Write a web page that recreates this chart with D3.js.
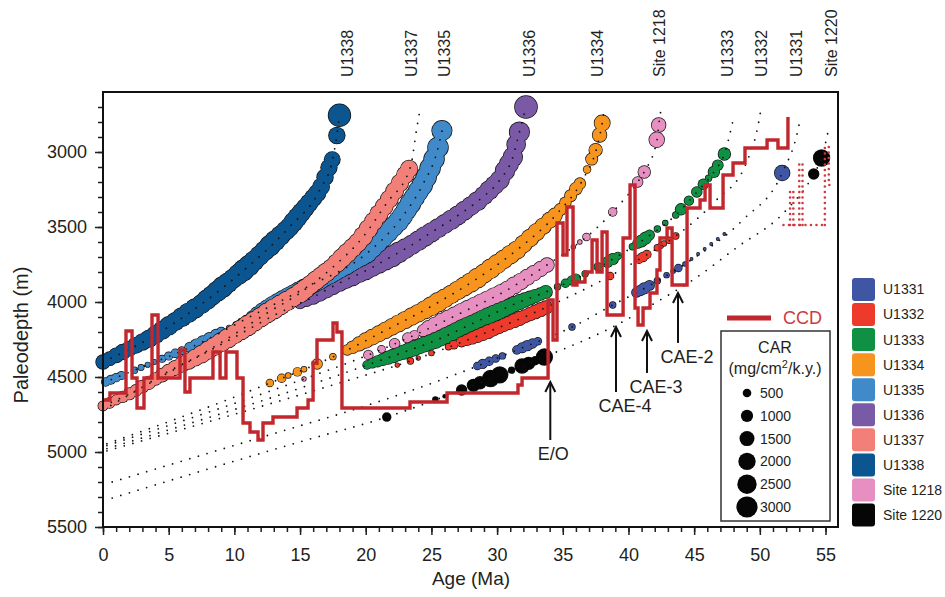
<!DOCTYPE html>
<html>
<head>
<meta charset="utf-8">
<script src="https://cdn.jsdelivr.net/npm/d3@7"></script>
<style>
body { margin: 0; background: #fff; }
svg { display: block; font-family: "Liberation Sans", Arial, sans-serif; }
</style>
</head>
<body>
<svg id="chart" width="945" height="597"></svg>
<script>
// ---- data ----
const siteNames = ['U1331', 'U1332', 'U1333', 'U1334', 'U1335', 'U1336', 'U1337', 'U1338', 'Site 1218', 'Site 1220'];
const siteColors = ['#3f56a5', '#ee3a2b', '#0f9043', '#f7941d', '#418ac9', '#7a5aa6', '#f37f79', '#0b5591', '#e78fc0', '#060606'];
const drawOrder = ['U1336', 'U1335', 'U1337', 'U1338', 'U1334', 'Site 1218', 'U1333', 'U1332', 'U1331', 'Site 1220'];

const topLabels = ['U1338', 'U1337', 'U1335', 'U1336', 'U1334', 'Site 1218', 'U1333', 'U1332', 'U1331', 'Site 1220'];
const topLabelAge = [18.65, 23.5, 26.0, 32.5, 37.7, 42.4, 47.6, 50.2, 52.8, 55.5];

const ageMajor = [0, 5, 10, 15, 20, 25, 30, 35, 40, 45, 50, 55];
const depthMajor = [3000, 3500, 4000, 4500, 5000, 5500];
const carLegend = [500, 1000, 1500, 2000, 2500, 3000];

// paleodepth paths [age Ma, depth m]
const pathU1338 = [[0, 4400], [3.6, 4240], [7.4, 4020], [11, 3767], [14.2, 3500], [16.5, 3253], [17.5, 3040], [17.8, 2890], [18.0, 2755]];
const pathU1335 = [[0, 4540], [2.8, 4440], [7.4, 4273], [11, 4107], [15.4, 3907], [20.2, 3667], [22.6, 3453], [24.4, 3207], [25.4, 3007], [25.9, 2820]];
const pathU1337 = [[0, 4693], [2.3, 4600], [4.9, 4467], [7.4, 4353], [9.9, 4220], [12.5, 4073], [15, 3940], [17.5, 3767], [19.6, 3587], [21.6, 3340], [23.4, 3100], [23.9, 2833], [24.1, 2733]];
const pathU1336 = [[0, 4720], [5, 4470], [10, 4235], [13, 4090], [16, 3967], [18, 3873], [20.1, 3787], [21.8, 3705], [23.4, 3625], [25.1, 3530], [26.9, 3430], [28.7, 3315], [30.2, 3187], [31.2, 3033], [31.7, 2867], [32.2, 2700]];
const pathU1334 = [[0.3, 4945], [10.4, 4620], [12.7, 4540], [16.3, 4413], [18.6, 4320], [21.1, 4207], [24.9, 4033], [28.2, 3860], [31.5, 3653], [34.6, 3407], [36.5, 3187], [37.6, 2967], [38.0, 2807], [38.15, 2720]];
const path1218 = [[0.3, 4957], [15.3, 4513], [20.2, 4353], [23.4, 4233], [27.4, 4067], [30.5, 3933], [33.8, 3753], [35.8, 3633], [36.8, 3567], [38.8, 3400], [40.7, 3200], [41.2, 3133], [42.2, 2907], [42.3, 2820], [42.45, 2733]];
const pathU1333 = [[0.3, 4977], [17.5, 4500], [20.1, 4420], [22.4, 4350], [25.4, 4253], [28.7, 4120], [31.5, 4007], [33.8, 3930], [36.1, 3840], [38.7, 3720], [41.1, 3587], [43.6, 3420], [45.2, 3267], [46.5, 3133], [47.3, 3013], [48.0, 2773]];
const pathU1332 = [[0.3, 4992], [17.5, 4553], [23.4, 4393], [28.7, 4220], [33.8, 4033], [38.6, 3827], [41.1, 3700], [43.6, 3560], [46.7, 3320], [48.9, 3087], [49.9, 2807], [50.05, 2733]];
const pathU1331 = [[0.7, 5200], [15.2, 4820], [17.7, 4755], [28.5, 4427], [31.5, 4320], [35.7, 4167], [38.8, 4020], [41.4, 3900], [44.3, 3747], [48.7, 3453], [51.7, 3140], [52.9, 2853], [53.1, 2767]];
const path1220 = [[0.7, 5307], [15.2, 4927], [21.6, 4767], [27.3, 4587], [33.6, 4367], [39.1, 4153], [42.4, 3987], [44.9, 3853], [48.3, 3633], [51.8, 3407], [54.1, 3147], [54.7, 3040], [55.3, 2820]];

// samples [age Ma, CAR mg/cm2/k.y.]
const carU1338 = [[0, 1300], [0.5, 1200], [1, 1400], [1.5, 1500], [2, 1400], [2.5, 1600], [3, 1700], [3.5, 1900], [4, 2000], [4.5, 2100], [5, 2200], [5.5, 2100], [6, 2300], [6.5, 2400], [7, 2400], [7.5, 2300], [7.9, 2500], [8.3, 2400], [8.7, 2600], [9.1, 2700], [9.5, 2500], [9.9, 2400], [10.3, 2600], [10.7, 2800], [11.1, 2700], [11.5, 2500], [11.9, 2400], [12.3, 2500], [12.7, 2700], [13.1, 2600], [13.5, 2400], [13.9, 2300], [14.2, 2200], [14.5, 2400], [14.8, 2300], [15.1, 2200], [15.4, 2100], [15.7, 2000], [16, 1900], [16.3, 1900], [16.6, 1800], [16.9, 1700], [17.2, 1700], [17.45, 1600], [17.8, 1700], [18.0, 3200]];
const carU1335 = [[0.2, 430], [0.6, 480], [1.0, 430], [1.4, 400], [2.4, 240], [2.9, 200], [3.4, 150], [3.9, 130], [4.5, 300], [5.0, 400], [5.5, 430], [6.0, 350], [6.6, 600], [7.1, 800], [7.6, 850], [8.1, 800], [8.6, 700], [9.0, 500], [9.6, 150], [10.1, 150], [10.5, 200], [10.9, 300], [11.3, 600], [11.7, 1000], [12.1, 1300], [12.5, 1600], [12.9, 1900], [13.3, 2000], [13.7, 2100], [14.1, 2200], [14.5, 2200], [14.9, 2300], [15.3, 2300], [15.7, 2200], [16.1, 2300], [16.5, 2400], [16.9, 2300], [17.3, 2400], [17.7, 2400], [18.1, 2400], [18.5, 2500], [18.9, 2400], [19.3, 2400], [19.7, 2500], [20.1, 2500], [20.5, 2400], [20.9, 2500], [21.3, 2600], [21.7, 2600], [22.1, 2500], [22.5, 2600], [22.8, 2600], [23.1, 2600], [23.4, 2700], [23.7, 2600], [24.0, 2600], [24.3, 2700], [24.6, 2700], [24.9, 2700], [25.2, 2700], [25.5, 2700], [25.8, 2600]];
const carU1337 = [[0, 600], [0.5, 700], [1.0, 650], [1.5, 800], [2.0, 900], [2.5, 850], [3.0, 1000], [3.5, 1100], [4.0, 1000], [4.5, 1200], [5.0, 1300], [5.5, 1400], [6.0, 1500], [6.5, 1700], [7.0, 1800], [7.5, 2000], [8.0, 2100], [8.5, 2200], [9.0, 2300], [9.5, 2400], [10, 2300], [10.5, 2500], [11, 2600], [11.5, 2500], [12, 2400], [12.5, 2500], [13, 2600], [13.5, 2500], [14, 2400], [14.5, 2300], [15, 2400], [15.4, 2300], [15.8, 2200], [16.2, 2300], [16.6, 2200], [17, 2200], [17.4, 2100], [17.8, 2200], [18.2, 2300], [18.6, 2300], [19, 2200], [19.4, 2200], [19.8, 2300], [20.2, 2200], [20.6, 2100], [21, 2100], [21.4, 2000], [21.8, 2000], [22.2, 2000], [22.6, 1900], [23, 1900], [23.3, 1900]];
const carU1336 = [[15.0, 800], [15.5, 1000], [16.0, 1300], [16.5, 1500], [17.0, 1600], [17.5, 1700], [18, 1800], [18.5, 1900], [19, 2000], [19.5, 2000], [20, 2100], [20.5, 2200], [21, 2400], [21.5, 2600], [22, 2800], [22.5, 2700], [23, 2500], [23.5, 2400], [24, 2400], [24.5, 2500], [25, 2400], [25.5, 2300], [26, 2300], [26.5, 2400], [27, 2300], [27.5, 2300], [28, 2200], [28.5, 2300], [29, 2200], [29.4, 2300], [29.8, 2200], [30.2, 2300], [30.6, 2400], [30.9, 2300], [31.2, 2400], [31.45, 2200], [31.7, 2600], [32.2, 3300]];
const carU1334 = [[12.7, 330], [13.6, 430], [14.1, 170], [14.8, 430], [15.3, 170], [16.3, 670], [17.5, 240], [18.6, 670], [19.0, 1000], [19.5, 1250], [20, 1500], [20.5, 1600], [21, 1600], [21.5, 1700], [22, 1750], [22.5, 1850], [23, 1850], [23.5, 1950], [24, 1950], [24.5, 2100], [25, 2300], [25.5, 2400], [26, 2200], [26.5, 2100], [27, 2200], [27.5, 2300], [28, 2400], [28.5, 2500], [29, 2300], [29.5, 2400], [30, 2300], [30.5, 2200], [31, 2200], [31.5, 2100], [32, 1950], [32.5, 1950], [33, 1850], [33.5, 1700], [34, 1600], [34.4, 1350], [34.8, 900], [35.2, 800], [35.6, 900], [36.0, 1000], [36.3, 800], [36.85, 330], [37.2, 900], [37.5, 1100], [37.8, 1300], [38.0, 1600]];
const car1218 = [[15.3, 100], [20.2, 540], [21.2, 330], [22.2, 670], [23.2, 670], [23.7, 540], [24.4, 1000], [24.8, 1500], [25.3, 1700], [25.8, 1900], [26.3, 2000], [26.8, 2100], [27.3, 2200], [27.8, 2200], [28.3, 2100], [28.8, 2100], [29.3, 2000], [29.8, 2000], [30.3, 1900], [30.8, 1800], [31.3, 1800], [31.8, 1700], [32.3, 1600], [32.8, 1500], [33.3, 1400], [33.8, 1300], [35.8, 100], [36.3, 110], [36.8, 330], [38.8, 430], [40.7, 670], [41.2, 960], [42.15, 1500], [42.3, 1300]];
const carU1333 = [[20.1, 430], [20.5, 600], [20.9, 800], [21.3, 900], [21.7, 1100], [22.1, 1200], [22.5, 1100], [22.9, 1300], [23.3, 1400], [23.7, 1500], [24.1, 1400], [24.5, 1500], [24.9, 1500], [25.3, 1600], [25.7, 1600], [26.1, 1700], [26.5, 1600], [26.9, 1800], [27.3, 1900], [27.7, 1900], [28.1, 1800], [28.5, 1800], [28.9, 1900], [29.3, 1900], [29.7, 1800], [30.1, 1700], [30.5, 1600], [30.9, 1500], [31.3, 1500], [31.7, 1400], [32.1, 1300], [32.5, 1200], [32.9, 1100], [33.3, 1000], [33.7, 1100], [34.6, 240], [35.2, 430], [35.7, 540], [36.0, 540], [36.7, 240], [37.7, 430], [38.4, 700], [38.8, 800], [39.2, 330], [40.3, 240], [40.7, 600], [41.0, 900], [41.3, 900], [41.6, 600], [42.2, 240], [42.8, 170], [43.6, 240], [44.0, 800], [44.6, 540], [45.2, 670], [45.7, 670], [46.1, 240], [46.5, 800], [46.8, 700], [47.3, 960]];
const carU1332 = [[22.4, 100], [23.4, 240], [24.0, 100], [25.0, 170], [26.3, 240], [26.7, 430], [27.3, 650], [27.7, 800], [28.1, 950], [28.5, 1050], [28.9, 1100], [29.3, 1200], [29.7, 1100], [30.1, 1050], [30.5, 1050], [30.9, 1100], [31.3, 1200], [31.7, 1200], [32.1, 1100], [32.5, 1100], [32.9, 1200], [33.3, 1200], [33.7, 1150], [38.6, 330], [40.8, 430], [41.1, 540], [41.4, 430], [42.2, 240], [42.45, 170], [42.7, 170], [43.1, 240], [43.6, 240]];
const carU1331 = [[28.5, 330], [28.9, 540], [29.4, 430], [29.9, 330], [30.4, 240], [31.5, 430], [31.9, 600], [32.3, 670], [32.7, 540], [33.1, 330], [35.7, 240], [38.8, 240], [40.6, 540], [40.9, 670], [41.2, 800], [41.6, 600], [42.2, 240], [42.9, 170], [43.4, 107], [43.8, 330], [44.3, 107], [44.8, 40], [45.3, 40], [45.8, 40], [46.3, 40], [46.8, 40], [47.3, 40], [51.7, 1500]];
const car1220 = [[21.6, 430], [25.3, 170], [26.0, 60], [27.3, 670], [28.2, 960], [28.7, 960], [29.5, 1700], [30.2, 1700], [31.1, 240], [31.9, 1300], [32.4, 960], [32.9, 430], [33.6, 1700], [54.1, 670], [54.7, 1700]];

// CCD (step after) [age Ma, depth m]
const ccd = [[0, 4653], [0.53, 4607], [1.75, 4193], [2.21, 4507], [2.59, 4707], [3.12, 4507], [3.73, 4087], [4.19, 4507], [5.86, 4320], [6.24, 4600], [6.62, 4507], [8.37, 4333], [8.91, 4507], [9.36, 4333], [10.2, 4507], [10.66, 4807], [11.19, 4867], [11.8, 4920], [12.18, 4807], [12.94, 4767], [14.77, 4707], [15.61, 4653], [15.99, 4407], [16.29, 4253], [17.51, 4140], [17.81, 4200], [18.19, 4707], [23.37, 4667], [26.19, 4607], [31.59, 4553], [31.9, 4507], [33.88, 3987], [34.26, 4253], [34.56, 3473], [35.02, 3687], [35.32, 3367], [35.78, 3887], [36.08, 3867], [36.69, 3800], [37.23, 3587], [37.61, 3800], [37.99, 3533], [38.37, 4087], [39.59, 3573], [40.12, 3220], [40.5, 4040], [40.73, 4153], [41.11, 4040], [41.64, 3940], [42.17, 3787], [42.4, 3573], [42.94, 3507], [43.32, 3887], [44.46, 3373], [45.45, 3320], [45.83, 3220], [46.21, 3373], [47.2, 3153], [47.96, 3073], [48.87, 2973], [50.55, 2920], [51.38, 2973], [52.14, 2767]];
const ccdUncertain = [
  [[51.8, 3487], [55.0, 3487]],
  [[52.3, 3487], [52.3, 3260]], [[52.55, 3487], [52.55, 3260]],
  [[53.0, 3487], [53.0, 3070]], [[53.25, 3487], [53.25, 3070]],
  [[54.95, 3487], [54.95, 2967]], [[55.25, 2967], [55.25, 3220], [55.6, 3220]]
];

// event arrows
const eventLabels = ['E/O', 'CAE-4', 'CAE-3', 'CAE-2'];
const eventAge = [34.05, 39.05, 41.41, 43.77];
const eventTip = [4533, 4167, 4193, 3940];
const eventTail = [4920, 4600, 4473, 4273];

const sitePaths = { 'U1331': pathU1331, 'U1332': pathU1332, 'U1333': pathU1333, 'U1334': pathU1334, 'U1335': pathU1335, 'U1336': pathU1336, 'U1337': pathU1337, 'U1338': pathU1338, 'Site 1218': path1218, 'Site 1220': path1220 };
const siteCar = { 'U1331': carU1331, 'U1332': carU1332, 'U1333': carU1333, 'U1334': carU1334, 'U1335': carU1335, 'U1336': carU1336, 'U1337': carU1337, 'U1338': carU1338, 'Site 1218': car1218, 'Site 1220': car1220 };

// ---- chart ----
const svg = d3.select('#chart');
const ink = '#231f20';

const x = d3.scaleLinear().domain([0, 55.95]).range([103, 838]);
const y = d3.scaleLinear().domain([2600, 5500]).range([92, 527]);
const rScale = d3.scaleSqrt().domain([0, 3000]).range([0, 10.6]);
const color = d3.scaleOrdinal().domain(siteNames).range(siteColors);

// axes
const xMajor = d3.axisBottom(x).tickValues(ageMajor).tickSize(8).tickPadding(13).tickFormat(d3.format('d'));
const xMinor = d3.axisBottom(x).tickValues(d3.range(0, 56, 1)).tickSize(5).tickFormat('');
const yMajor = d3.axisLeft(y).tickValues(depthMajor).tickSize(8).tickPadding(8).tickFormat(d3.format('d'));
const yMinor = d3.axisLeft(y).tickValues(d3.range(2700, 5501, 100)).tickSize(5).tickFormat('');

function styleAxis(g) {
  g.select('.domain').remove();
  g.selectAll('.tick line').attr('stroke', ink).attr('stroke-width', 1.5);
  g.selectAll('.tick text').attr('fill', ink).style('font-size', '18px').style('font-family', '"Liberation Sans", Arial, sans-serif');
}
svg.append('g').attr('transform', 'translate(0,527)').call(xMinor).call(styleAxis);
svg.append('g').attr('transform', 'translate(0,527)').call(xMajor).call(styleAxis);
svg.append('g').attr('transform', 'translate(103,0)').call(yMinor).call(styleAxis);
svg.append('g').attr('transform', 'translate(103,0)').call(yMajor).call(styleAxis);

// sample circles, each site as one blob: outline layer then fill layer
const plot = svg.append('g');
drawOrder.forEach(name => {
  const path = sitePaths[name];
  const depthAt = d3.scaleLinear().domain(path.map(d => d[0])).range(path.map(d => d[1]));
  const pts = siteCar[name].map(d => ({ cx: x(d[0]), cy: y(depthAt(d[0])), r: rScale(d[1]) }));
  const g = plot.append('g');
  g.selectAll('circle.o').data(pts).join('circle')
    .attr('class', 'o').attr('cx', d => d.cx).attr('cy', d => d.cy).attr('r', d => d.r + 0.7)
    .attr('fill', '#111');
  g.selectAll('circle.f').data(pts).join('circle')
    .attr('class', 'f').attr('cx', d => d.cx).attr('cy', d => d.cy).attr('r', d => d.r)
    .attr('fill', color(name));
});

// dotted paleodepth paths
const pathLine = d3.line().x(d => x(d[0])).y(d => y(d[1])).curve(d3.curveMonotoneX);
drawOrder.forEach(name => {
  plot.append('path').attr('d', pathLine(sitePaths[name]))
    .attr('fill', 'none').attr('stroke', '#111').attr('stroke-width', 1.8)
    .attr('stroke-linecap', 'round').attr('stroke-dasharray', '0 9');
});

// CCD
const stepLine = d3.line().x(d => x(d[0])).y(d => y(d[1])).curve(d3.curveStepAfter);
plot.append('path').attr('d', stepLine(ccd)).attr('fill', 'none')
  .attr('stroke', '#c1272d').attr('stroke-width', 3.4);
const plainLine = d3.line().x(d => x(d[0])).y(d => y(d[1]));
ccdUncertain.forEach(seg => {
  plot.append('path').attr('d', plainLine(seg)).attr('fill', 'none')
    .attr('stroke', '#d0393f').attr('stroke-width', 2.6)
    .attr('stroke-linecap', 'round').attr('stroke-dasharray', '0 5.5');
});

// event arrows
eventLabels.forEach((label, i) => {
  const ax = x(eventAge[i]);
  const tip = y(eventTip[i]);
  const tail = y(eventTail[i]);
  plot.append('line').attr('x1', ax).attr('x2', ax).attr('y1', tail).attr('y2', tip + 1)
    .attr('stroke', '#111').attr('stroke-width', 2);
  plot.append('path').attr('d', `M${ax - 5},${tip + 10}L${ax},${tip}L${ax + 5},${tip + 10}`)
    .attr('fill', 'none').attr('stroke', '#111').attr('stroke-width', 2);
  plot.append('text').attr('x', ax + (i === 0 ? 3 : 9)).attr('y', tail + 20)
    .attr('text-anchor', 'middle').attr('fill', ink).style('font-size', '18px').text(label);
});

// frame
svg.append('rect').attr('x', 103).attr('y', 92).attr('width', 735).attr('height', 435)
  .attr('fill', 'none').attr('stroke', '#111').attr('stroke-width', 2);

// site labels on top
topLabels.forEach((name, i) => {
  svg.append('text')
    .attr('transform', `translate(${x(topLabelAge[i]) + 5},77) rotate(-90)`)
    .attr('fill', ink).style('font-size', '16px').text(name);
});

// axis titles
svg.append('text').attr('x', 471).attr('y', 585).attr('text-anchor', 'middle')
  .attr('fill', ink).style('font-size', '19px').text('Age (Ma)');
svg.append('text').attr('transform', 'translate(28,335) rotate(-90)').attr('text-anchor', 'middle')
  .attr('fill', ink).style('font-size', '20px').text('Paleodepth (m)');

// CCD legend
svg.append('line').attr('x1', 727).attr('x2', 771).attr('y1', 318).attr('y2', 318)
  .attr('stroke', '#c1272d').attr('stroke-width', 5);
svg.append('text').attr('x', 783).attr('y', 318).attr('dy', '0.35em')
  .attr('fill', '#cf3a3f').style('font-size', '18px').text('CCD');

// CAR legend box
const carBox = svg.append('g');
carBox.append('rect').attr('x', 721).attr('y', 331).attr('width', 109).attr('height', 190)
  .attr('fill', '#fff').attr('stroke', '#333').attr('stroke-width', 1.5);
carBox.append('text').attr('x', 775).attr('y', 353).attr('text-anchor', 'middle')
  .attr('fill', ink).style('font-size', '16px').text('CAR');
const unit = carBox.append('text').attr('x', 775).attr('y', 374).attr('text-anchor', 'middle')
  .attr('fill', ink).style('font-size', '16px');
unit.append('tspan').text('(mg/cm');
unit.append('tspan').attr('dy', -6).style('font-size', '11px').text('2');
unit.append('tspan').attr('dy', 6).text('/k.y.)');
const carY = d3.scalePoint().domain(carLegend).range([393, 507]);
carBox.selectAll('circle').data(carLegend).join('circle')
  .attr('cx', 747).attr('cy', d => carY(d)).attr('r', d => rScale(d)).attr('fill', '#060606');
carBox.selectAll('text.v').data(carLegend).join('text').attr('class', 'v')
  .attr('x', 760).attr('y', d => carY(d)).attr('dy', '0.35em')
  .attr('fill', ink).style('font-size', '14px').text(d => d);

// site legend
const legY = d3.scalePoint().domain(siteNames).range([289.5, 515]);
const leg = svg.append('g');
leg.selectAll('rect').data(siteNames).join('rect')
  .attr('x', 852).attr('y', d => legY(d) - 11.5).attr('width', 23).attr('height', 23)
  .attr('rx', 3).attr('fill', d => color(d));
leg.selectAll('text').data(siteNames).join('text')
  .attr('x', 883).attr('y', d => legY(d)).attr('dy', '0.35em')
  .attr('fill', ink).style('font-size', '14px').text(d => d);
</script>
</body>
</html>
